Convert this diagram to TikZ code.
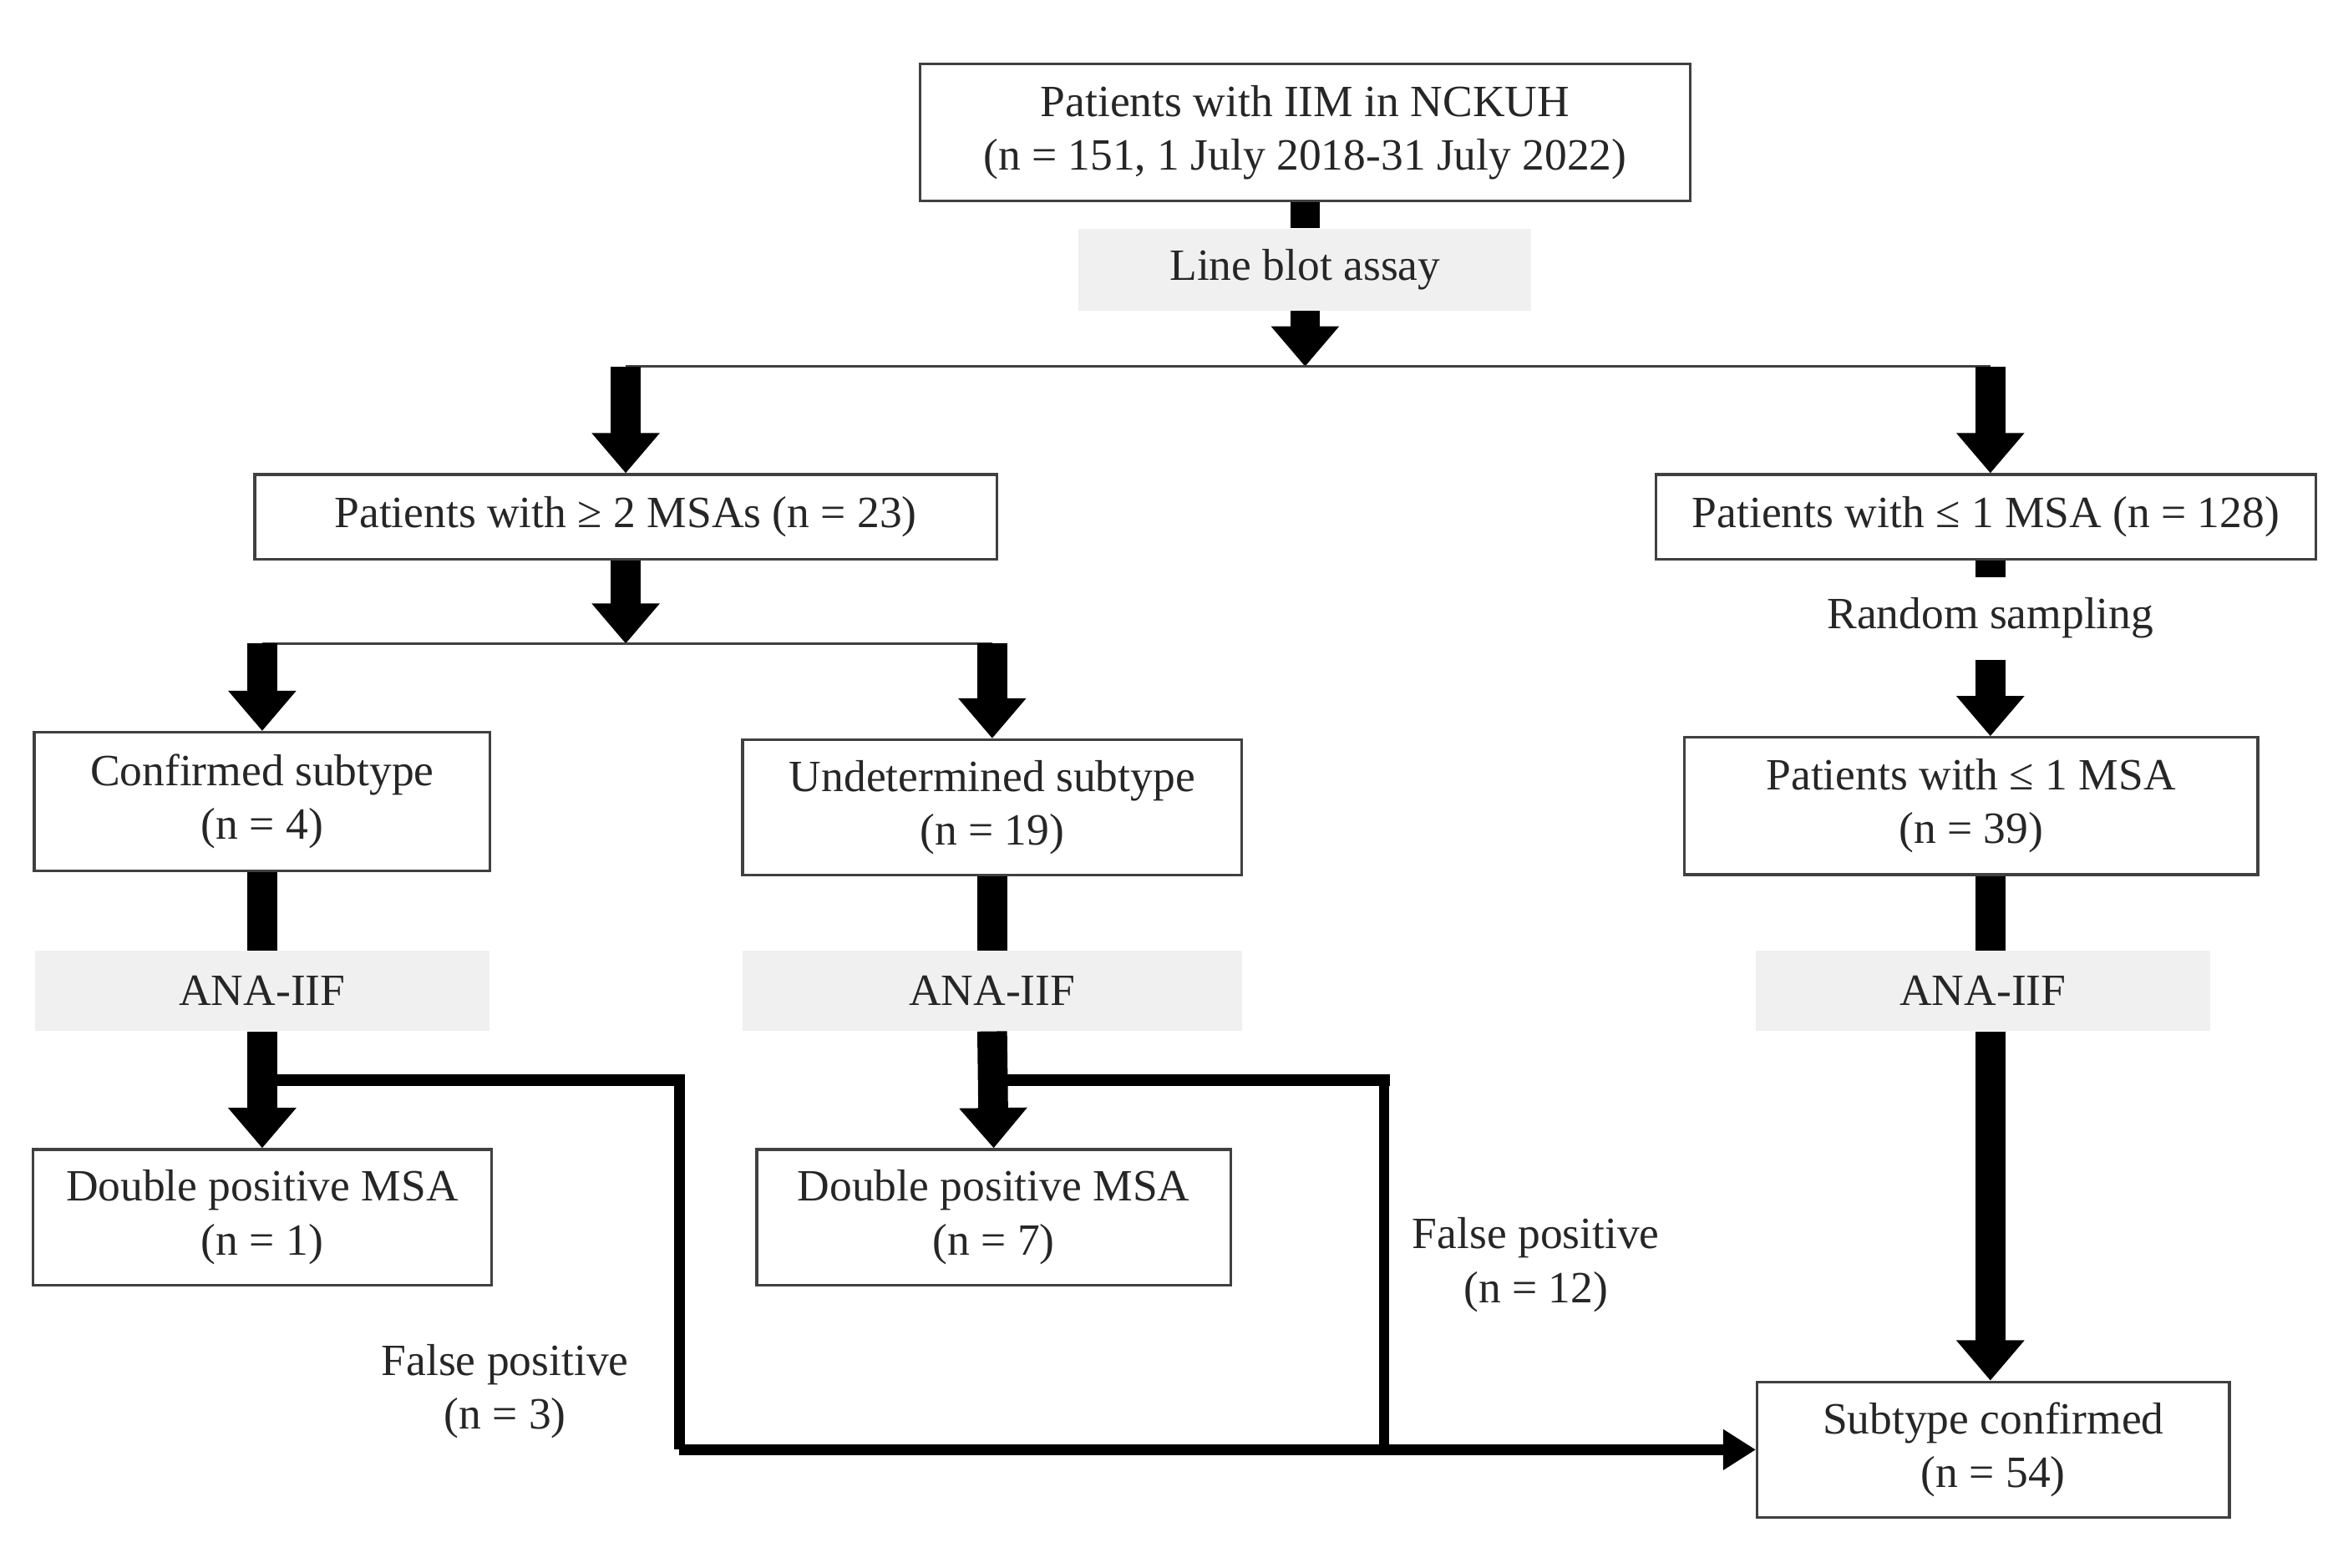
\documentclass[tikz,border=0pt]{standalone}
\usepackage{fontspec}
\setmainfont{Liberation Serif}
\usetikzlibrary{arrows.meta,calc}
\newcommand{\clrbox}{black!75}
\newcommand{\clrfill}{black!6}

\begin{document}
\begin{tikzpicture}[x=1pt, y=-1pt,
    every node/.style={font=\fontsize{30}{36}\selectfont, text=black!85, align=center, inner sep=0pt},
    box/.style={draw=\clrbox, line width=1.8pt},
    assay/.style={fill=\clrfill},
    stem/.style={line width=20pt},
    bigarrow/.style={line width=20pt, -{Triangle[width=44pt,length=27pt]}},
    thinline/.style={line width=1.5pt, \clrbox},
    fpbar/.style={line width=7.5pt},
    fpvert/.style={line width=7pt}]
    \useasboundingbox (-1,0) rectangle (1565,1052);

    \node[box, minimum width=517pt, minimum height=92pt] (top) at (875,89)
        {Patients with IIM in NCKUH\\(n = 151, 1 July 2018-31 July 2022)};
    \node[assay, minimum width=304pt, minimum height=55pt] (lba) at (875,181) {Line blot assay};

    \node[box, minimum width=498pt, minimum height=57pt] (msa2) at (419,347) {Patients with ≥ 2 MSAs (n = 23)};
    \node[box, minimum width=443pt, minimum height=57pt] (msa1) at (1332,347) {Patients with ≤ 1 MSA (n = 128)};

    \node[box, minimum width=306pt, minimum height=93pt] (conf) at (175,538) {Confirmed subtype\\(n = 4)};
    \node[box, minimum width=335pt, minimum height=91pt] (undet) at (665,542) {Undetermined subtype\\(n = 19)};
    \node[minimum height=55pt] (rs) at (1335,415) {Random sampling};
    \node[box, minimum width=385pt, minimum height=92pt] (msa39) at (1322,541) {Patients with ≤ 1 MSA\\(n = 39)};

    \node[assay, minimum width=305pt, minimum height=54pt] (ana1) at (175,665) {ANA-IIF};
    \node[assay, minimum width=335pt, minimum height=54pt] (ana2) at (665,665) {ANA-IIF};
    \node[assay, minimum width=305pt, minimum height=54pt] (ana3) at (1330,665) {ANA-IIF};

    \node[box, minimum width=308pt, minimum height=91pt] (dp1) at (175,817) {Double positive MSA\\(n = 1)};
    \node[box, minimum width=318pt, minimum height=91pt] (dp2) at (666,817) {Double positive MSA\\(n = 7)};
    \node[box, minimum width=317pt, minimum height=91pt] (sub) at (1337,973) {Subtype confirmed\\(n = 54)};

    \node (fp3) at (338,934) {False positive\\(n = 3)};
    \node (fp12) at (1030,849) {False positive\\(n = 12)};

    \coordinate (rcol) at (1335,0);
    \coordinate (split1) at (875,246);
    \coordinate (split2) at (419,432);

    % main stream
    \draw[stem] (top.south) -- (lba.north);
    \draw[bigarrow] (lba.south) -- (split1);
    \draw[thinline] (split1 -| msa2) -- (split1 -| rcol);
    \draw[bigarrow] (split1 -| msa2) -- (msa2.north);
    \draw[bigarrow] (split1 -| rcol) -- (msa1.north -| rcol);

    \draw[bigarrow] (msa2.south) -- (split2);
    \draw[thinline] (split2 -| conf) -- (split2 -| undet);
    \foreach \b in {conf,undet} {
        \draw[bigarrow] (split2 -| \b) -- (\b.north);
    }

    \draw[stem] (msa1.south -| rcol) -- (rs.north -| rcol);
    \draw[bigarrow] (rs.south -| rcol) -- (msa39.north -| rcol);

    \foreach \a/\b/\c in {conf/ana1/dp1,undet/ana2/dp2} {
        \draw[stem] (\a.south) -- (\b.north);
        \draw[bigarrow] (\b.south) -- (\c.north);
    }
    \draw[stem] (msa39.south -| rcol) -- (ana3.north -| rcol);
    \draw[bigarrow] (ana3.south -| rcol) -- (sub.north -| rcol);

    % false positives
    \coordinate (fp1a) at (175,725);
    \coordinate (fp1b) at (455,725);
    \coordinate (fp1c) at (455,973);
    \coordinate (fp2a) at (665,725);
    \coordinate (fp2b) at (928,725);
    \coordinate (fp2c) at (928,973);
    \foreach \i in {1,2} {
        \draw[fpvert] (fp\i b) -- (fp\i c);
        \draw[fpbar, line cap=rect] (fp\i a) -- (fp\i b);
    }
    \draw[fpbar, -{Triangle[width=26pt,length=22pt]}] (fp1c) -- (sub.west);
\end{tikzpicture}
\end{document}
